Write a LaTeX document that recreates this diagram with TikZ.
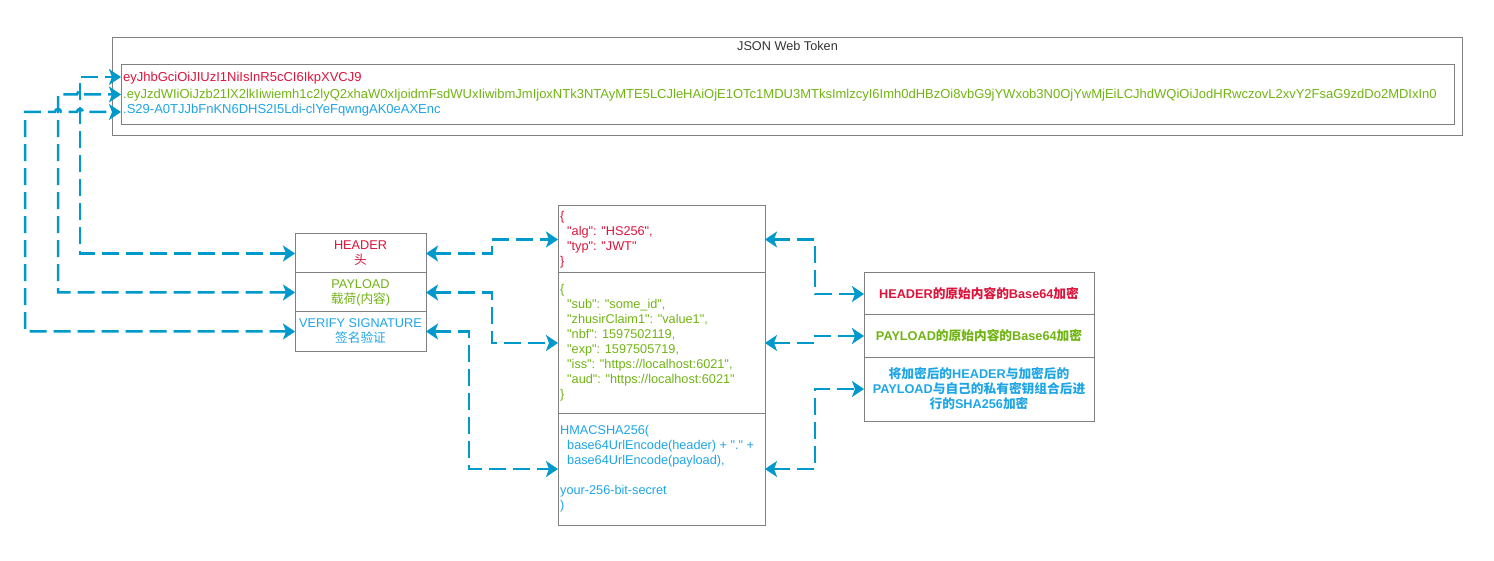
\documentclass[tikz,border=0pt]{standalone}
\usepackage{fontspec}
\setmainfont{Liberation Sans}[Ligatures=TeXOff]
\newfontfamily\cjk{Noto Sans CJK SC}
\newcommand\zh[1]{{\cjk #1}}
\newcommand\fs{\fontsize{12.7pt}{15pt}\selectfont}
\newcommand\fst{\fontsize{13pt}{15pt}\selectfont}
\usetikzlibrary{arrows.meta}
\definecolor{jred}{HTML}{DC143C}
\definecolor{jgreen}{HTML}{70B412}
\definecolor{jblue}{HTML}{1EA5E6}
\definecolor{jline}{HTML}{0099CC}
\definecolor{jgray}{HTML}{808080}
\definecolor{jtitle}{HTML}{333333}
\begin{document}
\begin{tikzpicture}[x=1pt,y=-1pt,
  box/.style={draw=jgray, line width=1pt, anchor=north west, inner sep=0pt, outer sep=0pt},
  txt/.style={font=\fs, inner sep=0pt},
  ttxt/.style={font=\fst, inner sep=0pt, anchor=west},
  btxt/.style={font=\fs\bfseries, inner sep=0pt, align=center},
  conn/.style={draw=jline, line width=2.5pt, dash pattern=on 17pt off 7pt,
    {Stealth[length=12pt,width=16pt,inset=3pt]}-{Stealth[length=12pt,width=16pt,inset=3pt]}},
]
\useasboundingbox (0,0) rectangle (1494,561);

% JSON Web Token
\node[box, minimum width=1350pt, minimum height=98pt] (jwt) at (112.5,37.5) {};
\node[txt, text=jtitle] (jwtT) at (787.5,46) {JSON Web Token};
\node[box, minimum width=1333pt, minimum height=60pt] (tok) at (121.5,64.5) {};
\node[ttxt, text=jred] (tokH) at (123,78.5) {eyJhbGciOiJIUzI1NiIsInR5cCI6IkpXVCJ9};
\node[ttxt, text=jgreen] (tokP) at (123,95) {.eyJzdWIiOiJzb21lX2lkIiwiemh1c2lyQ2xhaW0xIjoidmFsdWUxIiwibmJmIjoxNTk3NTAyMTE5LCJleHAiOjE1OTc1MDU3MTksImlzcyI6Imh0dHBzOi8vbG9jYWxob3N0OjYwMjEiLCJhdWQiOiJodHRwczovL2xvY2FsaG9zdDo2MDIxIn0};
\node[ttxt, text=jblue] (tokS) at (123,110.5) {.S29-A0TJJbFnKN6DHS2I5Ldi-clYeFqwngAK0eAXEnc};
\coordinate (aH) at (121,77);
\coordinate (aP) at (121,94.5);
\coordinate (aS) at (121,112);

% left boxes
\node[box, minimum width=131pt, minimum height=39pt] (hd) at (295,234) {};
\node[txt, align=center, text=jred] (hdT) at (hd.center) {HEADER\\\zh{头}};
\node[box, minimum width=131pt, minimum height=39pt] (pl) at (295,273) {};
\node[txt, align=center, text=jgreen] (plT) at (pl.center) {PAYLOAD\\\zh{载荷}(\zh{内容})};
\node[box, minimum width=131pt, minimum height=39pt] (vs) at (295,312) {};
\node[txt, align=center, text=jblue] (vsT) at (vs.center) {VERIFY SIGNATURE\\\zh{签名验证}};

% middle boxes
\node[box, minimum width=207pt, minimum height=67pt] (mh) at (558,206) {};
\node[txt, align=left, anchor=west, text=jred] (mhT) at ([xshift=2pt]mh.west)
  {\{\\\hspace*{7pt}"alg": "HS256",\\\hspace*{7pt}"typ": "JWT"\\\}};
\node[box, minimum width=207pt, minimum height=140pt] (mp) at (558,273) {};
\node[txt, align=left, anchor=west, text=jgreen] (mpT) at ([xshift=2pt]mp.west)
  {\{\\\hspace*{7pt}"sub": "some\_id",\\\hspace*{7pt}"zhusirClaim1": "value1",\\\hspace*{7pt}"nbf": 1597502119,\\\hspace*{7pt}"exp": 1597505719,\\\hspace*{7pt}"iss": "https://localhost:6021",\\\hspace*{7pt}"aud": "https://localhost:6021"\\\}};
\node[box, minimum width=207pt, minimum height=112pt] (ms) at (558,413) {};
\node[txt, align=left, anchor=west, text=jblue] (msT) at ([xshift=2pt]ms.west)
  {HMACSHA256(\\\hspace*{7pt}base64UrlEncode(header) + "." +\\\hspace*{7pt}base64UrlEncode(payload),\\\mbox{}\\your-256-bit-secret\\)};

% right boxes
\node[box, minimum width=230pt, minimum height=42pt] (r1) at (864,273) {};
\node[btxt, text=jred] (r1T) at (r1.center) {HEADER\zh{的原始内容的}Base64\zh{加密}};
\node[box, minimum width=230pt, minimum height=42pt] (r2) at (864,315) {};
\node[btxt, text=jgreen] (r2T) at (r2.center) {PAYLOAD\zh{的原始内容的}Base64\zh{加密}};
\node[box, minimum width=230pt, minimum height=64pt] (r3) at (864,357) {};
\node[btxt, text=jblue] (r3T) at (r3.center) {\zh{将加密后的}HEADER\zh{与加密后的}\\PAYLOAD\zh{与自己的私有密钥组合后进}\\\zh{行的}SHA256\zh{加密}};

% connectors to token
\draw[conn] (hd.west) -| (80,77) -- (aH);
\draw[conn] (pl.west) -| (58,94.5) -- (77,94.5) .. controls (77,90.5) and (83,90.5) .. (83,94.5) -- (aP);
\draw[conn] (vs.west) -| (25,112) -- (55,112) .. controls (55,108) and (61,108) .. (61,112) -- (77,112) .. controls (77,108) and (83,108) .. (83,112) -- (aS);

% left to middle
\draw[conn] (hd.east) -- (492,253.5) |- (mh.west);
\draw[conn] (pl.east) -- (492,292.5) |- (mp.west);
\draw[conn] (vs.east) -- (469,331.5) |- (ms.west);

% middle to right
\draw[conn] (mh.east) -- (815,239.5) |- (r1.west);
\draw[conn] (mp.east) -- (815,343) |- (r2.west);
\draw[conn] (ms.east) -- (815,469) |- (r3.west);
\end{tikzpicture}
\end{document}
